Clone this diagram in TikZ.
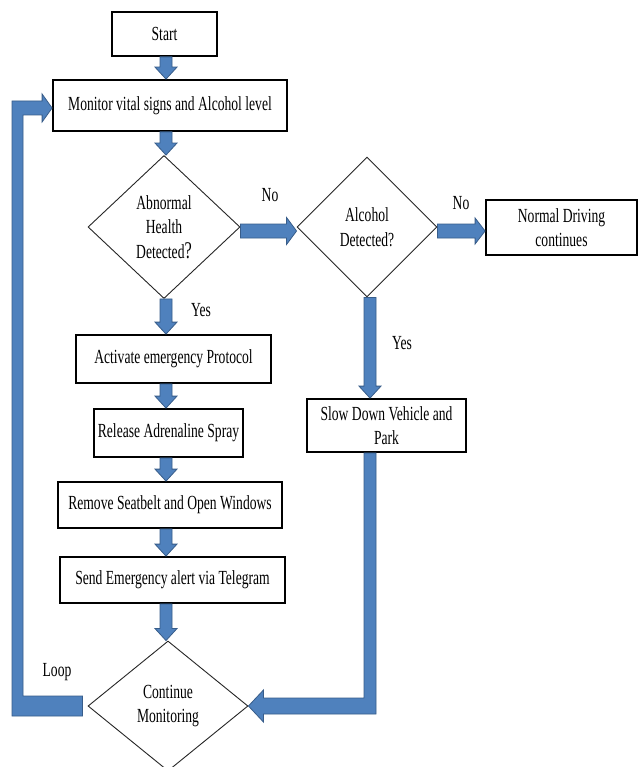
\documentclass[tikz,border=0pt]{standalone}
\usepackage{fontspec}
\setmainfont{Liberation Serif}[FakeStretch=0.68]
\usetikzlibrary{shapes.geometric,calc}
\definecolor{arrowblue}{RGB}{79,129,189}
\definecolor{arrowedge}{RGB}{56,93,138}
\tikzset{
  blk/.style={fill=arrowblue, draw=arrowedge, line width=0.8pt, line join=miter},
  box/.style={draw=black, line width=1.8pt, fill=white, inner sep=0pt, align=center,
    font=\fontsize{20}{23.5}\selectfont},
  dec/.style={diamond, draw=black!85, line width=0.9pt, inner sep=0pt, align=center,
    font=\fontsize{20}{24.5}\selectfont},
  lbl/.style={font=\fontsize{20}{24}\selectfont, inner sep=0pt}
}
% vertical block arrow: from, to, x, shaft half width, head half width
\newcommand\DownArrow[5]{\filldraw[blk] let \p1=(#1), \p2=(#2), \p3=(#3,0) in
 (\x3-#4pt,\y1) -- (\x3+#4pt,\y1) -- (\x3+#4pt,\y2+12pt) -- (\x3+#5pt,\y2+12pt)
 -- (\x3,\y2) -- (\x3-#5pt,\y2+12pt) -- (\x3-#4pt,\y2+12pt) -- cycle;}
% horizontal block arrow: from, to, y, shaft half height, head half height
\newcommand\RightArrow[5]{\filldraw[blk] let \p1=(#1), \p2=(#2), \p3=(0,#3) in
 (\x1,\y3+#4pt) -- (\x2-10pt,\y3+#4pt) -- (\x2-10pt,\y3+#5pt) -- (\x2,\y3)
 -- (\x2-10pt,\y3-#5pt) -- (\x2-10pt,\y3-#4pt) -- (\x1,\y3-#4pt) -- cycle;}
\begin{document}
\begin{tikzpicture}[x=1pt,y=-1pt]
\useasboundingbox[fill=white] (0,0) rectangle (640,767);

% nodes
\node[box, minimum width=105pt, minimum height=44pt] (start) at (164.5,34) {Start};
\node[box, minimum width=234pt, minimum height=51pt] (monitor) at (170,105.5) {Monitor vital signs and Alcohol level};
\node[dec, minimum width=152pt, minimum height=143pt] (d1) at (164,227) {Abnormal\\Health\\Detected{\fontsize{24}{24}\selectfont ?}};
\node[dec, minimum width=140pt, minimum height=140pt] (d2) at (367,227) {Alcohol\\Detected?};
\node[box, minimum width=151pt, minimum height=55pt] (normal) at (561.5,227.5) {Normal Driving\\continues};
\node[box, minimum width=159pt, minimum height=53pt] (slow) at (386.5,425.5) {Slow Down Vehicle and\\Park};
\node[box, minimum width=195pt, minimum height=48pt] (activate) at (173.5,359) {Activate emergency Protocol};
\node[box, minimum width=149pt, minimum height=48pt] (release) at (168.5,433) {Release Adrenaline Spray};
\node[box, minimum width=224pt, minimum height=46pt] (remove) at (170,505) {Remove Seatbelt and Open Windows};
\node[box, minimum width=225pt, minimum height=46pt] (send) at (172.5,580) {Send Emergency alert via Telegram};
\node[dec, minimum width=160pt, minimum height=130pt] (d3) at (168,706) {Continue\\Monitoring};

% labels
\node[lbl] (no1) at (270,195) {No};
\node[lbl] (no2) at (461,203) {No};
\node[lbl] (yes1) at (201,310) {Yes};
\node[lbl] (yes2) at (402,343) {Yes};
\node[lbl] (loop) at (57,672) {Loop};

% vertical arrows (left column)
\DownArrow{start.south}{monitor.north}{166}{6}{11}
\DownArrow{monitor.south}{d1.north}{166}{6}{11}
\DownArrow{d1.south}{activate.north}{166}{6}{11}
\DownArrow{activate.south}{release.north}{166}{6}{11}
\DownArrow{release.south}{remove.north}{166}{6}{11}
\DownArrow{remove.south}{send.north}{166}{6}{11}
\DownArrow{send.south}{d3.north}{166}{6}{11}
% yes from alcohol
\DownArrow{d2.south}{slow.north}{370}{6}{11}

% horizontal arrows
\RightArrow{d1.east}{d2.west}{231}{7}{13.5}
\RightArrow{d2.east}{normal.west}{231}{7}{13}

% return from slow down to continue monitoring
\filldraw[blk] let \p1=(slow.south), \p2=(d3.east), \p3=(370,0) in
 (\x3-6pt,\y1) -- (\x3+6pt,\y1) -- (\x3+6pt,\y2-8pt) -- (\x2+15pt,\y2-8pt)
 -- (\x2+15pt,\y2-16pt) -- (\x2,\y2) -- (\x2+15pt,\y2+16pt) -- (\x2+15pt,\y2+8pt)
 -- (\x3-6pt,\y2+8pt) -- cycle;

% loop back to monitor
\filldraw[blk] let \p1=(d3.west), \p2=(monitor.west), \p3=(12,108) in
 (\x1-5pt,\y1+10pt) -- (\x3+11pt,\y1+10pt) -- (\x3+11pt,\y3-7pt) -- (\x2-10pt,\y3-7pt)
 -- (\x2-10pt,\y3-14pt) -- (\x2,\y3) -- (\x2-10pt,\y3+14pt) -- (\x2-10pt,\y3+7pt)
 -- (\x3,\y3+7pt) -- (\x3,\y1-10pt) -- (\x1-5pt,\y1-10pt) -- cycle;
\end{tikzpicture}
\end{document}
